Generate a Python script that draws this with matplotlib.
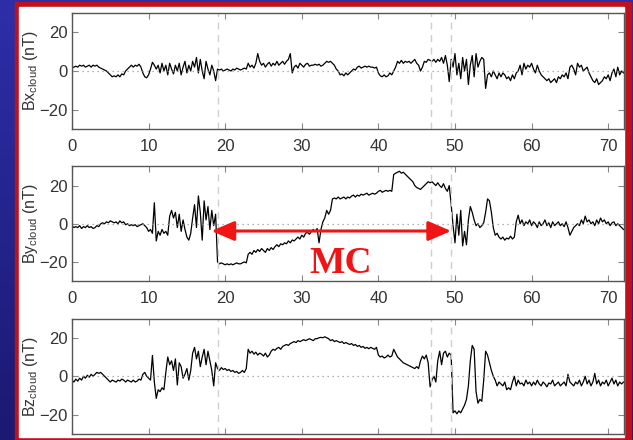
import numpy as np
import matplotlib
matplotlib.use("Agg")
import matplotlib.pyplot as plt
from matplotlib.patches import Rectangle

# time axis in hours, 0.25 h sampling
t = np.arange(0, 72.001, 0.25)

bx = [
    1.5, 2, 2.5, 2, 3, 2.5, 3, 2, 2.5, 3, 2, 3, 2.5, 3, 2, 1.5,
    1, 0.5, 0, -1, -2, -3, -2.5, -3, -2, -3, -1.5, -2, 0, 1, 2, 3,
    2, 3, 2.5, 3.5, 2, -1, -3, -3.5, -2, 1, 4.5, 3, 1, 3, -1, 4,
    0, 3, -2, 4, 1, -1.5, 3, 0, 4, -2, 2, 5, -1, 3, 0, 5,
    2, 7, -1, 6, 0, -4, 5, 1, -2, 3, 0, -5, 1, 0.5, 1, 0,
    0.5, 1, 0.5, 0, 1, 0.5, 1.5, 1, 0.5, 1, 1.5, 1, 4, 2, 3, 1.5,
    4, 9, 5, 3, 4, 2, 3.5, 4.5, 2.5, 4, 3, 5, 3, 4, 5, 3.5,
    5, 6, 9, -1, 2, 3, 1.5, 4, 3, 2, 3.5, 4, 2.5, 3, 3, 3.5,
    3, 3.5, 2.5, 3, 4, 5, 4.5, 5, 4, 3, 1, 0, -2, -1.5, -2.5, -1,
    -2, -1, 0, 1, 0.5, 2, 2.5, 1.5, 2, 2.5, 2, 2.5, 2, 2, 1.5, 2,
    -1, -2.5, -3, -2, -3, -2.5, -1, -2, 0, 2, 5, 4, 5.5, 4, 5, 4.5,
    5, 4, 5, 6, 4, 3, 0, 2, 5, 4.5, 6, 5.5, 5, 6, 4.5, 6,
    5, 7, 4, 8, 3, -5.5, 6, 2, 9, -2, 4, -4, 7, 0, 6, -7,
    3, 8, -3, 9, 2, 5, 7, 6, -9, -2, -1, -3, 0, -2, -4, -1,
    -3, -1, -2, -4, -3, -5, -2, -4, -1, 0, 3, -2, 4, 1, 3, 2,
    4, 1, -1, 3, 0, -2, -3, -4, -5, -4, -6, -5, -4, -6, -3, -4,
    -2, -3, -1, -4, 2, 3, 1, -2, 4, 2, 3, 0, 1, 2, -1, -3,
    -5, -6, -4, -7, -6, -5, -3, -4, -2, -5, -1, 1, -3, 2, -2, 0,
    -1,
]

by = [
    -1, -2, -1.5, -2, -1, -2.5, -1.5, -2, -1, -2, -1.5, -2.5, -2, -1, -1.5, 0,
    0.5, 0, 1, 0.5, 1.5, 1, 0.5, 1, 0, 1.5, 0.5, 1, -0.5, 0, -1, -0.5,
    -1, -0.5, -1.5, -1, -0.5, 0, -1, -2, -4, -3, -5, 11, -9, -4, -6, -3,
    -5, -4, -6, 4, 7, 3, 6, -2, 5, -4, 2, -3, -7, -8.6, -5, 3,
    10, -2, 14.6, 6, -8.6, 12, 2, 9, -3, 7, -1, 5, -20, -21, -20.5, -21,
    -21.5, -21, -21.5, -21, -21.5, -21, -20.5, -21, -21, -20.5, -20, -20.5, -16, -15, -16, -14,
    -15, -13.5, -14.5, -13, -14, -15, -13, -14, -12.5, -13.5, -12, -11, -12, -10.5, -11, -10,
    -10.5, -9, -10, -8.5, -9, -8, -7, -8, -6, -7, -5, -4.5, -5.5, -4, -3, -4,
    -2.5, -10, -3, 1, 3, 7, 5, 7, 13, 13.5, 13, 14, 13, 13.5, 14, 13,
    14, 13.5, 14.5, 15, 14, 15, 14.5, 15.5, 15, 15.5, 16, 15, 15.5, 16, 15.5, 16,
    17, 17.5, 16.5, 17, 17.5, 17, 17.5, 17, 25.8, 26.5, 27, 27.5, 26.5, 27, 26, 25,
    24, 23, 22, 20, 19, 18.5, 18, 19, 20, 21, 22, 21.5, 22, 21, 20, 21.5,
    20, 19, 21, 18.5, 17, 20, 10, -1, -10, 5, -6, 7, -11.6, -4, -11, 2,
    9, 6, 2, -1, 0, -2, -1, 0.5, 6, 13, 12, 6, -2, -6, -5, -7,
    -8, -7, -8.6, -7.5, -8, -6.5, -8, -7, 1, 4.5, 0, 2, -1, 1, 0, 2,
    -1, 1, 0, -2, 1, -1, 0, 2, -1, 0.5, -2, 1, -1, 0, 1, -1,
    0, -1.5, 1, -2, -6, -4, -2, -1, 0, -1, 2, 0, 4, 1, 2, 0,
    1, -1, 2, 0, 3, 1, 2, 0, 1, -1, 0.5, 1, -1, 0, -1, -2,
    -3,
]

bz = [
    -2, -3, -1.5, -2.5, -1, -2, 0, -1, 0.5, -0.5, 1, 0, 1, 2, 1.5, 2,
    1, 0, -1, -2, -3, -2, -2.5, -3, -2, -2.5, -1.5, -2, -3, -2, -2.5, -3,
    -2, -3, -2.5, -1.5, -2, 1, 2, 0, -1, -2, 10.8, -3, -11.5, -7, -8, -6,
    -7, 2, 10, 6, 8, 3, 9, -4.5, 7, 5, -1, 1, 4, -2, 3, 12,
    15, 9, 13, 5, 10, 14, 6, 13, 8, 3, -5, 7, 4, 3, 4.5, 3.5,
    4, 3, 3.5, 2.5, 3, 2, 2.5, 1.5, 2, 3, 2, 4, 14, 12, 13, 11.5,
    12.5, 11, 12, 11.5, 10.5, 12, 10, 11, 13, 14, 13.5, 14.5, 15, 14, 15.5, 16,
    16.5, 16, 17, 17.5, 18, 17.5, 18.5, 18, 18.5, 19, 18.5, 19, 19.5, 19, 18.5, 19.5,
    19.5, 20, 20.2, 20, 20.5, 20, 19.5, 18.5, 19, 18, 18.5, 18, 17.5, 18, 17, 17.5,
    17, 16.5, 17, 16, 16.5, 15.5, 16, 15, 15.5, 14.5, 15, 14.3, 15, 14.5, 14, 15,
    11, 10, 10.5, 9.5, 10, 11, 10, 10.5, 14, 12, 10, 9, 8, 7, 6.5, 6,
    5.5, 5, 4.5, 4, 5, 4, 8, 10.5, 9, 11, 7, -5.5, -2, 0, -3, 8,
    13, 6, 12, 13, 10, 12, 11, -19, -18, -19.5, -18, -19, -17, -15, -12, -5,
    8, 16, 14, -8, -14, -12, -13, -2, 13, 11, 7, 3, 0, -2, -5, -3,
    -4, -5, -3, -7, -6, -7, -3, 0, -5, -2, -4, -3.5, -5, -2, -4, -3,
    -5, -3, -4.5, -2, -4, -5, -3, -4, -5.5, -3.5, -4, -2, -5, -4, -3, -5,
    -4, -3, -5, 1, -3, -4, -5, -3, -4, -2, -5, -3, 0, -4, -2, -5,
    -3, 1.5, -4, -2, -5, -3, -4, -2, -5, -3, -1, -4, -2, -5, -3, -4,
    -3,
]

series = [bx, by, bz]
ylabels = ["Bx$_{\\mathregular{cloud}}$ (nT)",
           "By$_{\\mathregular{cloud}}$ (nT)",
           "Bz$_{\\mathregular{cloud}}$ (nT)"]
xticks = [0, 10, 20, 30, 40, 50, 60, 70]
yticks = [-20, 0, 20]
boundaries = [19.0, 46.9, 49.5]   # dashed verticals
mc_start, mc_end, mc_y = 18.2, 49.5, -3.8

W, H = 633, 440
fig = plt.figure(figsize=(W / 100, H / 100), dpi=100)

def box(x0, y0, x1, y1):
    # pixel box (top-left origin) -> figure fraction rect
    return [x0 / W, 1 - y1 / H, (x1 - x0) / W, (y1 - y0) / H]

# blue slide background
bg = fig.add_axes([0, 0, 1, 1], zorder=-10)
grad = np.linspace(0, 1, 256)[:, None]
top = np.array([46, 46, 168]) / 255
bot = np.array([26, 26, 112]) / 255
img = top[None, None, :] * (1 - grad[:, :, None]) + bot[None, None, :] * grad[:, :, None]
bg.imshow(img, aspect="auto", extent=[0, 1, 0, 1])
bg.set_axis_off()

# red frame + white panel
r = box(15, 2, 631, 442)
fig.patches.append(Rectangle((r[0], r[1]), r[2], r[3], transform=fig.transFigure,
                             color="#c0101c", zorder=-5))
w = box(19, 7, 623.5, 437)
fig.patches.append(Rectangle((w[0], w[1]), w[2], w[3], transform=fig.transFigure,
                             color="white", zorder=-4))

tick_font = ["Liberation Sans Narrow", "Liberation Sans", "DejaVu Sans"]
rows = [(13, 129), (166.5, 281), (318.5, 434)]
axes = []
for (y0, y1), vals, lab in zip(rows, series, ylabels):
    ax = fig.add_axes(box(72, y0, 623.5, y1))
    ax.plot(t, vals, color="black", lw=0.9)
    ax.axhline(0, color="#9a9a9a", lw=0.9, ls=(0, (1, 3)))
    for b in boundaries:
        ax.axvline(b, color="#cfcfcf", lw=1.0, ls=(0, (5, 4)))
    ax.set_xlim(0, 72)
    ax.set_ylim(-30, 30)
    ax.set_xticks(xticks)
    ax.set_yticks(yticks)
    ax.tick_params(direction="in", top=True, right=True, length=4, width=0.8,
                   color="#888888", labelcolor="#333333", labelsize=12)
    ax.tick_params(axis="x", pad=7)
    ax.tick_params(axis="y", pad=3)
    for lb in ax.get_xticklabels() + ax.get_yticklabels():
        lb.set_family(tick_font)
    for s in ax.spines.values():
        s.set_color("#555555")
        s.set_linewidth(1.0)
    fig.text(31 / W, 1 - ((y0 + y1) / 2) / H, lab, rotation=90, ha="center",
             va="center", fontsize=11.5, color="#333333", family="Liberation Sans")
    axes.append(ax)

# bottom panel's x labels fall below the cropped slide
axes[2].tick_params(axis="x", labelbottom=False)

ax2 = axes[1]
ax2.annotate("", xy=(mc_start, mc_y), xytext=(mc_end, mc_y),
             arrowprops=dict(arrowstyle="<|-|>,head_length=0.7,head_width=0.3",
                             color="#f01414", lw=2.2, mutation_scale=20,
                             shrinkA=0, shrinkB=0), zorder=5)
ax2.text(35.1, -21, "MC", ha="center", va="center", fontsize=27,
         fontweight="bold", family="Liberation Serif", color="#f01414", zorder=6)

fig.savefig("out.png", dpi=100)
